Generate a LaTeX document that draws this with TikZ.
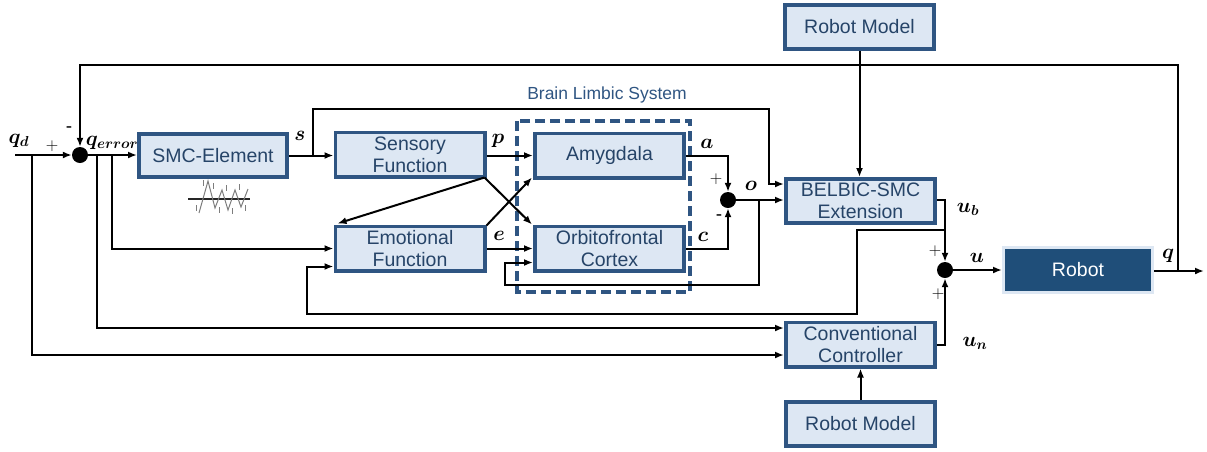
\documentclass[tikz,border=0pt]{standalone}
\usepackage{fontspec}
\setmainfont{Liberation Sans}
\usepackage{amsmath}
\usepackage{bm}
\usetikzlibrary{arrows.meta,calc}

\definecolor{bdr}{RGB}{47,85,130}
\definecolor{bfill}{RGB}{221,231,243}
\definecolor{btext}{RGB}{38,68,104}
\definecolor{rfill}{RGB}{31,78,121}
\definecolor{icon}{RGB}{125,125,125}

\tikzset{
  blk/.style={draw=bdr, fill=bfill, line width=3.8pt, text=btext, align=center,
    font=\fontsize{19.5}{22}\selectfont, minimum width=149.2pt, minimum height=44.2pt, inner sep=0pt},
  wire/.style={line width=2pt, -{Latex[length=9pt,width=7pt]}},
  sumj/.style={circle, fill=black, minimum size=16pt, inner sep=0pt},
  lbl/.style={font=\fontsize{22}{26}\selectfont, inner sep=0pt},
  sgn/.style={font=\fontsize{19}{22}\selectfont, inner sep=0pt},
}

\begin{document}
\begin{tikzpicture}[x=1pt,y=-1pt]
\useasboundingbox (0,0) rectangle (1207,451);

% Brain limbic system frame
\draw[bdr, line width=3.8pt, dash pattern=on 10pt off 5pt] (517,121) rectangle (690,292);
\node[text=bdr, font=\fontsize{17.5}{20}\selectfont] (bls) at (607,95) {Brain Limbic System};

% blocks
\node[blk, minimum width=148.2pt, minimum height=43.2pt] (smc) at (213,155.5) {SMC-Element};
\node[blk] (sens) at (410,154.5) {Sensory\\Function};
\node[blk] (amy) at (609.5,155.5) {Amygdala};
\node[blk] (emo) at (410,248.5) {Emotional\\Function};
\node[blk] (ofc) at (609.5,248.5) {Orbitofrontal\\Cortex};
\node[blk] (rmt) at (859.5,27) {Robot Model};
\node[blk] (bel) at (860.5,201) {BELBIC-SMC\\Extension};
\node[blk] (conv) at (860.5,344.5) {Conventional\\Controller};
\node[blk] (rmb) at (860.5,424) {Robot Model};
\node[draw=bfill, fill=rfill, line width=3pt, text=white, font=\fontsize{19.5}{22}\selectfont,
      minimum width=149pt, minimum height=45pt, inner sep=0pt] (robot) at (1078,270) {Robot};

% summing junctions
\node[sumj] (j1) at (80,155) {};
\node[sumj] (jo) at (728,200) {};
\node[sumj] (ju) at (945,270) {};

% sliding-mode switching icon
\draw[black!85, line width=1.5pt] (188,199) -- (250,199);
\draw[icon, line width=1pt] (199,213) -- (208,181) -- (215,208) -- (222,190) -- (228,210) -- (235,190) -- (241,207) -- (248,189);
\foreach \tx/\ty in {203/180, 213/183, 226/185, 239/184, 196/205, 219/207, 232/208, 245/205}
  \draw[icon, line width=0.7pt] (\tx,\ty) -- ++(0,6);

% signal paths
\coordinate (qin) at (15,155);
\draw[wire] (qin) -- (j1);
\coordinate (b1) at (32,155);
\draw[wire] (b1) |- ($(conv.west)+(0,10.5)$);
\draw[wire] (j1) -- (smc.west |- j1);
\coordinate (b2) at (97,155);
\draw[wire] (b2) |- ($(conv.west)+(0,-16.5)$);
\coordinate (b3) at (112,155);
\draw[wire] (b3) |- (emo.west);

\coordinate (qfb) at (1178,271);
\coordinate (fbt) at (1178,65);
\draw[wire] (qfb) -- (fbt) -| (j1.north);
\coordinate (qout) at (1204,271);
\draw[wire] (robot.east |- qfb) -- (qout);

\draw[wire] (smc.east) -- (sens.west |- smc.east);
\coordinate (b5) at (313,155.5);
\coordinate (st) at (769,109);
\draw[wire] (b5) |- (st) |- ($(bel.west)+(0,-17)$);

\draw[wire] (sens.east |- amy.west) -- (amy.west);
\draw[wire] ($(sens.south east)+(-2,-1)$) -- ($(emo.north west)+(4,-1)$);
\draw[wire] ($(sens.south east)+(-2,-1)$) -- ($(ofc.north west)+(-1,0)$);
\draw[wire] ($(emo.north east)+(0,1)$) -- ($(amy.south west)+(-1,-2)$);
\draw[wire] (emo.east) -- (ofc.west);

\draw[wire] (amy.east) -| (jo.north);
\draw[wire] (ofc.east) -| (jo.south);
\draw[wire] (jo) -- (bel.west |- jo);
\coordinate (b6) at (759,200);
\coordinate (ofl) at (505,285);
\draw[wire] (b6) |- (ofl) |- ($(ofc.west)+(0,14)$);

\draw[wire] ($(bel.east)+(0,-1)$) -| (ju.north);
\coordinate (b7) at (945,230);
\coordinate (c1) at (857,314);
\coordinate (c2) at (307,314);
\draw[wire] (b7) -| (c1) -- (c2) |- ($(emo.west)+(0,18)$);
\draw[wire] (conv.east) -| (ju.south);
\draw[wire] (ju) -- (robot.west |- ju);

\draw[wire] (rmt.south) -- (rmt.south |- bel.north);
\draw[wire] (rmb.north) -- (rmb.north |- conv.south);

% signal labels
\node[lbl] (lqd) at (19,141) {$\bm{q}_{\bm{d}}$};
\node[sgn] (p1) at (52,146) {$+$};
\node[sgn] (m1) at (69,130) {-};
\node[lbl] (lqe) at (112,143) {$\bm{q}_{\bm{error}}$};
\node[lbl] (ls) at (300,136) {$\bm{s}$};
\node[lbl] (lp) at (498,141) {$\bm{p}$};
\node[lbl] (le) at (499,236) {$\bm{e}$};
\node[lbl] (la) at (707,144) {$\bm{a}$};
\node[sgn] (p2) at (716,179) {$+$};
\node[lbl] (lo) at (751,186) {$\bm{o}$};
\node[sgn] (m2) at (719,218) {-};
\node[lbl] (lc) at (703,237) {$\bm{c}$};
\node[lbl] (lub) at (968,209) {$\bm{u}_{\bm{b}}$};
\node[sgn] (p3) at (935,251) {$+$};
\node[lbl] (lu) at (977,258) {$\bm{u}$};
\node[sgn] (p4) at (938,294) {$+$};
\node[lbl] (lun) at (975,343) {$\bm{u}_{\bm{n}}$};
\node[lbl] (lq) at (1168,256) {$\bm{q}$};
\end{tikzpicture}
\end{document}
